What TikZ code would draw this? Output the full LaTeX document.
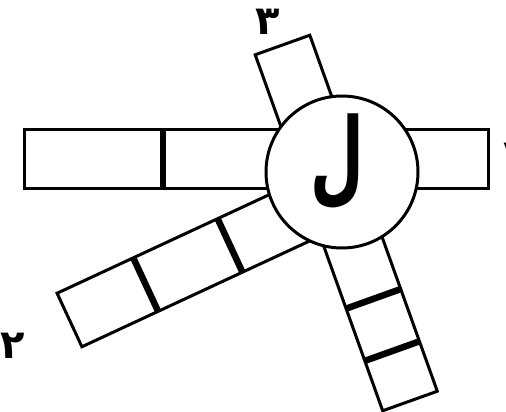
\documentclass[tikz,border=0pt]{standalone}
\usepackage{fontspec}
\newfontfamily\arabicfont[Script=Arabic]{DejaVu Sans}
\TeXXeTstate=1
\usetikzlibrary{calc}

\begin{document}
\begin{tikzpicture}[
    x=1pt, y=-1pt,
    bar/.style={draw, fill=white, line width=3pt, line join=miter},
    sep/.style={line width=6.5pt},
    hub/.style={circle, draw, fill=white, line width=3pt, minimum size=152pt, inner sep=0pt},
    digit/.style={font=\arabicfont\bfseries\fontsize{40}{40}\selectfont, inner sep=0pt},
    letter/.style={font=\arabicfont\bfseries\fontsize{62}{62}\selectfont, inner sep=0pt}
]
\useasboundingbox (0,0) rectangle (506,412);

% axes of the bars
\coordinate (to) at (282.5,45);
\coordinate (bo) at (410,401);
\coordinate (lo) at (69.5,320);
\coordinate (li) at (323.5,202);

% horizontal bar
\draw[bar] (24,129) rectangle (488,188);
\draw[sep] (163,129) -- (163,188);

% tilted bar, top and bottom right
\draw[bar] ($(to)!29pt!90:(bo)$) -- ($(to)!29pt!-90:(bo)$)
    -- ($(bo)!29pt!90:(to)$) -- ($(bo)!29pt!-90:(to)$) -- cycle;
\coordinate (b1) at ($(bo)!53pt!(to)$);
\coordinate (b2) at ($(bo)!108.5pt!(to)$);
\draw[sep] ($(b1)!29pt!90:(to)$) -- ($(b1)!29pt!-90:(to)$);
\draw[sep] ($(b2)!29pt!90:(to)$) -- ($(b2)!29pt!-90:(to)$);

% bottom left bar
\draw[bar] ($(lo)!29.5pt!90:(li)$) -- ($(lo)!29.5pt!-90:(li)$)
    -- ($(li)!29.5pt!90:(lo)$) -- ($(li)!29.5pt!-90:(lo)$) -- cycle;
\coordinate (l1) at ($(lo)!84pt!(li)$);
\coordinate (l2) at ($(lo)!177pt!(li)$);
\draw[sep] ($(l1)!29.5pt!90:(li)$) -- ($(l1)!29.5pt!-90:(li)$);
\draw[sep] ($(l2)!29.5pt!90:(li)$) -- ($(l2)!29.5pt!-90:(li)$);

% centre
\node[hub] (hc) at (342,172) {};
\node[letter] (lam) at (337,162) {\scalebox{1}[1.65]{\beginR ل\endR}};

% numbers
\node[digit] (n1) at (511,156) {\beginR ۱\endR};
\node[digit] (n2) at (13,346) {\beginR ۲\endR};
\node[digit] (n3) at (268,22) {\beginR ۳\endR};

\end{tikzpicture}
\end{document}
